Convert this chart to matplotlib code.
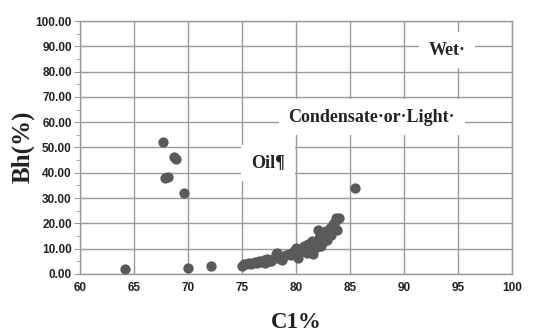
import matplotlib
matplotlib.use("Agg")
import matplotlib.pyplot as plt
from matplotlib.ticker import MultipleLocator

# Data
outlier_x = [64.2, 67.65, 67.9, 68.15, 68.7, 68.9, 69.6, 70.0, 72.1, 85.45]
outlier_y = [1.8, 52.2, 37.9, 38.4, 46.3, 45.4, 32.1, 2.2, 3.2, 34.1]

cluster_x = [75.0, 75.2, 75.4, 75.6, 75.8, 76.0, 76.2, 76.4, 76.6, 76.8,
             77.0, 77.1, 77.3, 77.5, 77.7, 77.9, 78.1, 78.2, 78.3, 78.5,
             78.7, 78.9, 79.1, 79.3, 79.5, 79.7, 79.9, 80.0, 80.1, 80.2,
             80.4, 80.6, 80.7, 80.9, 81.0, 81.1, 81.3, 81.4, 81.5, 81.6,
             81.8, 81.9, 82.0, 82.1, 82.3, 82.4, 82.5, 82.7, 82.8, 82.9,
             83.1, 83.2, 83.4, 83.5, 83.7, 83.8, 84.0, 83.6]
cluster_y = [3.3, 3.8, 4.0, 4.2, 3.9, 4.3, 4.6, 4.2, 5.0, 4.7,
             5.5, 4.4, 5.8, 4.9, 5.2, 6.0, 7.8, 8.4, 6.2, 6.7,
             5.4, 7.1, 7.5, 8.0, 7.4, 8.8, 9.6, 10.3, 7.2, 6.3,
             8.5, 9.4, 11.0, 10.2, 8.2, 12.0, 11.2, 9.0, 13.0, 7.9,
             12.4, 10.6, 17.5, 14.0, 11.0, 15.3, 12.6, 14.6, 16.8, 13.4,
             18.2, 15.5, 19.7, 17.8, 22.0, 17.4, 22.1, 20.4]

region_labels = ["Wet·", "Condensate·or·Light·", "Oil¶"]
region_x = [94.0, 87.0, 77.4]
region_y = [88.5, 62.0, 43.9]

xticks = [60, 65, 70, 75, 80, 85, 90, 95, 100]
yticks = [0, 10, 20, 30, 40, 50, 60, 70, 80, 90, 100]

fig = plt.figure(figsize=(5.34, 3.34), dpi=100)
ax = fig.add_axes([0.150, 0.180, 0.809, 0.757])

grid_c = "#9a9a9a"
ax.set_xlim(60, 100)
ax.set_ylim(0, 100)
ax.set_xticks(xticks)
ax.set_yticks(yticks)
ax.yaxis.set_minor_locator(MultipleLocator(5))
ax.set_xticklabels([str(t) for t in xticks])
ax.set_yticklabels(["%.2f" % t for t in yticks])
ax.grid(True, which="major", color=grid_c, linewidth=1.0)
ax.set_axisbelow(True)
for s in ax.spines.values():
    s.set_color(grid_c)
    s.set_linewidth(1.0)
ax.tick_params(axis="y", which="major", length=4, color=grid_c, pad=2,
               labelsize=8.5)
ax.tick_params(axis="y", which="minor", length=3, color=grid_c)
ax.tick_params(axis="x", which="major", length=0, pad=6, labelsize=8.5)
for lab in ax.get_xticklabels() + ax.get_yticklabels():
    lab.set_fontweight("bold")
    lab.set_family("Liberation Sans")
    lab.set_color("#222222")

ax.scatter(outlier_x, outlier_y, s=55, color="#5a5a5a", zorder=3, linewidths=0)
ax.scatter(cluster_x, cluster_y, s=55, color="#5a5a5a", zorder=3, linewidths=0)

for t, x, y in zip(region_labels, region_x, region_y):
    ax.text(x, y, t, ha="center", va="center", fontsize=13, fontweight="bold",
            family="Liberation Serif", color="#222222", zorder=4,
            bbox=dict(facecolor="white", edgecolor="none", pad=7))

fig.text(0.043, 0.56, "Bh(%)", rotation=90, ha="center", va="center",
         fontsize=18, fontweight="bold", family="Liberation Serif", color="#222222")
fig.text(0.555, 0.035, "C1%", ha="center", va="center",
         fontsize=16.5, fontweight="bold", family="Liberation Serif", color="#222222")

fig.savefig("out.png", dpi=100)
